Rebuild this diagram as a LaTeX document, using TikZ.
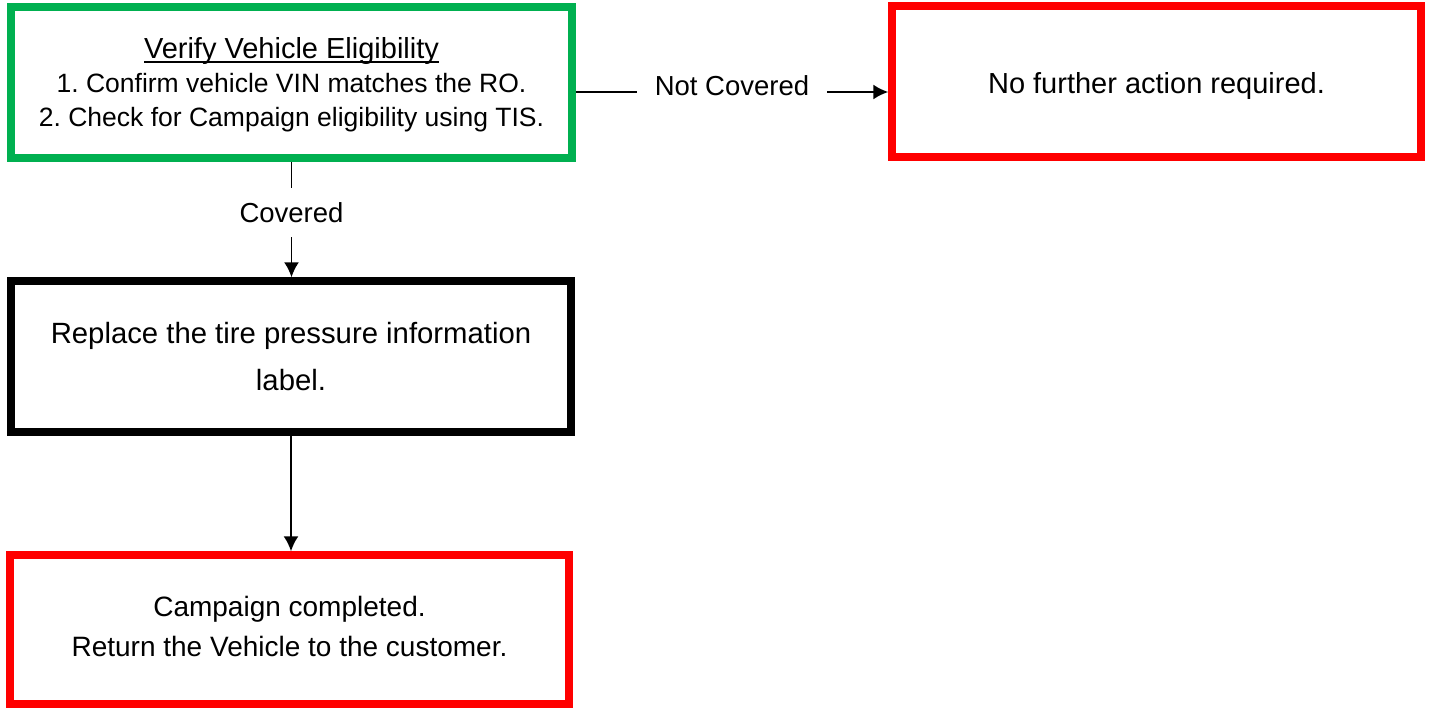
\documentclass[tikz,border=0pt]{standalone}
\usepackage{fontspec}
\setmainfont{Liberation Sans}
\usetikzlibrary{arrows.meta,calc}
\frenchspacing
\newcommand\fstrut{\vrule width0pt height0.905em depth0.212em\relax}
\newcommand\ulbox[1]{\setbox0\hbox{#1}\rlap{\rule[-4.5pt]{\wd0}{2pt}}\box0}
\definecolor{boxgreen}{RGB}{0,176,80}
\definecolor{boxred}{RGB}{255,0,0}
\begin{document}
\begin{tikzpicture}[x=1pt,y=1pt,
  box/.style={draw, rectangle, line width=7.5pt, inner sep=0pt, align=center, fill=white},
  conn/.style={line width=1.8pt, -{Latex[length=15pt,width=15pt]}},
  lbl/.style={fill=white, inner xsep=18pt, inner ysep=14.5pt, font=\fontsize{27.5}{33}\selectfont},
]
\useasboundingbox (0,0) rectangle (1431,-707);
\node[box, draw=boxgreen, minimum width=561pt, minimum height=151pt, font=\fontsize{26.5}{34}\selectfont\frenchspacing] (verify) at (291.5,-82.5)
  {{\fontsize{29}{34}\selectfont\fstrut\ulbox{Verify Vehicle Eligibility}}\\ \fstrut 1. Confirm vehicle VIN matches the RO.\\ \fstrut 2. Check for Campaign eligibility using TIS.};
\node[box, draw=boxred, minimum width=529pt, minimum height=151pt, font=\fontsize{29}{34}\selectfont] (nofurther) at (1156.5,-81.5)
  {\vrule width0pt height 30pt\fstrut No further action required.};
\node[box, draw=black, minimum width=560pt, minimum height=151pt, font=\fontsize{29.3}{47}\selectfont] (replace) at (291,-356.5)
  {\fstrut Replace the tire pressure information\\ \fstrut label.};
\node[box, draw=boxred, minimum width=559pt, minimum height=149pt, font=\fontsize{28}{40}\selectfont] (done) at (289.5,-629.5)
  {\fstrut Campaign completed.\\ \fstrut Return the Vehicle to the customer.\vrule width0pt depth 11pt};
\coordinate (nc) at ($(verify.east)+(0,-9.5)$);
\draw[conn] (nc) -- (nc -| nofurther.west) node[lbl, pos=0.5, yshift=6pt] {Not Covered};
\draw[conn] (verify.south) -- (verify.south |- replace.north) node[lbl, pos=0.44] {Covered};
\draw[conn] (replace.south) -- (replace.south |- done.north);
\end{tikzpicture}
\end{document}
